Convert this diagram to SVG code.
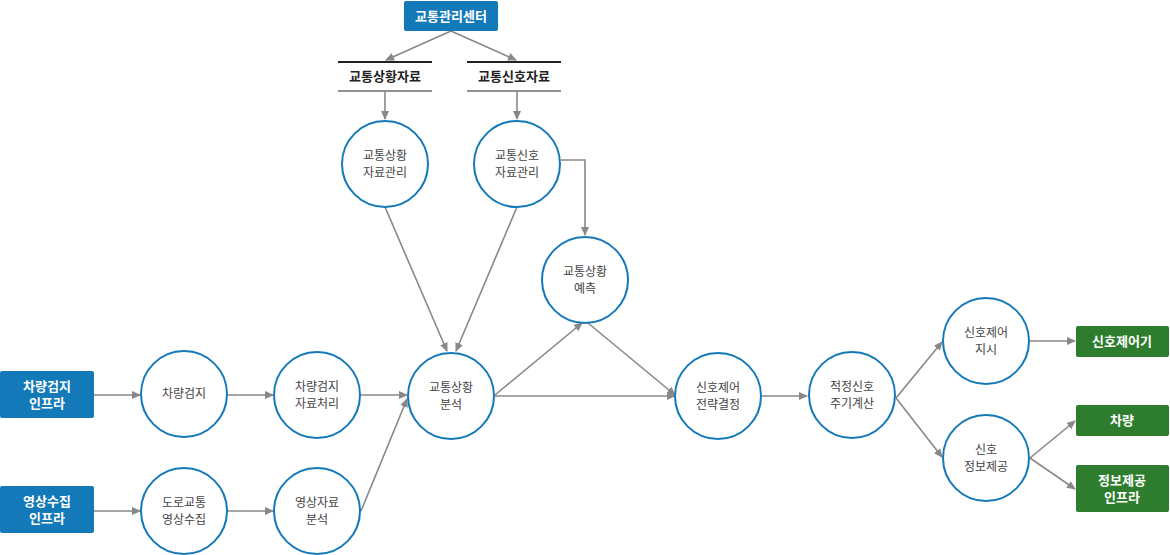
<svg xmlns="http://www.w3.org/2000/svg" width="1170" height="555" viewBox="0 0 1170 555">
<style>
.c{fill:#fff;stroke:#1479b8;stroke-width:2}
.t{font-family:"Noto Sans CJK KR","Noto Sans",sans-serif;font-size:12px;fill:#444;text-anchor:middle}
.b{fill:#1479b8}
.g{fill:#2e7d2e}
.bt{font-family:"Noto Sans CJK KR",sans-serif;font-size:13px;font-weight:bold;fill:#fff;text-anchor:middle}
.lt{font-family:"Noto Sans CJK KR",sans-serif;font-size:13px;font-weight:bold;fill:#222;text-anchor:middle}
.e{stroke:#888;stroke-width:1.6;fill:none;marker-end:url(#a)}
</style>
<defs><marker id="a" markerWidth="10" markerHeight="10" refX="8" refY="5" orient="auto" markerUnits="userSpaceOnUse"><path d="M0,1 L9,5 L0,9z" fill="#888"/></marker></defs>
<g id="connectors">
<path class="e" d="M451,31 L386,60"/><path class="e" d="M451,31 L516,60"/>
<path class="e" d="M385,92 L385,119"/><path class="e" d="M517,92 L517,119"/>
<path class="e" d="M561,160 L585,160 L585,235"/>
<path class="e" d="M385,207 L447,351"/><path class="e" d="M517,207 L456,351"/>
<path class="e" d="M94,395 L140,395"/><path class="e" d="M228,395 L273,395"/><path class="e" d="M361,395 L407,395"/>
<path class="e" d="M361,511 L407,399"/>
<path class="e" d="M94,511 L140,511"/><path class="e" d="M228,511 L273,511"/>
<path class="e" d="M495,395 L582,323"/><path class="e" d="M588,323 L675,395"/><path class="e" d="M495,396 L675,396"/>
<path class="e" d="M762,396 L807,396"/>
<path class="e" d="M896,398 L942,342"/><path class="e" d="M896,398 L942,457"/>
<path class="e" d="M1030,341 L1075,341"/><path class="e" d="M1030,458 L1075,421"/><path class="e" d="M1030,458 L1075,489"/>
</g>
<g id="center"><rect class="b" x="404" y="1" width="94" height="30" rx="2"/><text class="bt" x="451" y="21">교통관리센터</text></g>
<g id="data1"><line x1="338" y1="62" x2="432" y2="62" stroke="#222" stroke-width="2"/><line x1="338" y1="91" x2="432" y2="91" stroke="#222" stroke-width="1"/><text class="lt" x="385" y="81">교통상황자료</text></g>
<g id="data2"><line x1="467" y1="62" x2="561" y2="62" stroke="#222" stroke-width="2"/><line x1="467" y1="91" x2="561" y2="91" stroke="#222" stroke-width="1"/><text class="lt" x="514" y="81">교통신호자료</text></g>
<g id="n1"><circle class="c" cx="385" cy="164" r="43"/><text class="t" x="385" y="160">교통상황</text><text class="t" x="385" y="177">자료관리</text></g>
<g id="n2"><circle class="c" cx="517" cy="164" r="43"/><text class="t" x="517" y="160">교통신호</text><text class="t" x="517" y="177">자료관리</text></g>
<g id="n3"><circle class="c" cx="585" cy="280" r="43"/><text class="t" x="585" y="276">교통상황</text><text class="t" x="585" y="293">예측</text></g>
<g id="n4"><circle class="c" cx="184" cy="394" r="43"/><text class="t" x="184" y="398">차량검지</text></g>
<g id="n5"><circle class="c" cx="317" cy="395" r="43"/><text class="t" x="317" y="391">차량검지</text><text class="t" x="317" y="408">자료처리</text></g>
<g id="n6"><circle class="c" cx="451" cy="396" r="43"/><text class="t" x="451" y="392">교통상황</text><text class="t" x="451" y="409">분석</text></g>
<g id="n7"><circle class="c" cx="718" cy="396" r="43"/><text class="t" x="718" y="392">신호제어</text><text class="t" x="718" y="409">전략결정</text></g>
<g id="n8"><circle class="c" cx="852" cy="395" r="43"/><text class="t" x="852" y="391">적정신호</text><text class="t" x="852" y="408">주기계산</text></g>
<g id="n9"><circle class="c" cx="986" cy="341" r="43"/><text class="t" x="986" y="337">신호제어</text><text class="t" x="986" y="354">지시</text></g>
<g id="n10"><circle class="c" cx="986" cy="458" r="43"/><text class="t" x="986" y="454">신호</text><text class="t" x="986" y="471">정보제공</text></g>
<g id="n11"><circle class="c" cx="184" cy="511" r="43"/><text class="t" x="184" y="507">도로교통</text><text class="t" x="184" y="524">영상수집</text></g>
<g id="n12"><circle class="c" cx="317" cy="511" r="43"/><text class="t" x="317" y="507">영상자료</text><text class="t" x="317" y="524">분석</text></g>
<g id="in1"><rect class="b" x="0" y="371" width="94" height="47" rx="2"/><text class="bt" x="47" y="391">차량검지</text><text class="bt" x="47" y="408">인프라</text></g>
<g id="in2"><rect class="b" x="0" y="486" width="94" height="47" rx="2"/><text class="bt" x="47" y="506">영상수집</text><text class="bt" x="47" y="523">인프라</text></g>
<g id="o1"><rect class="g" x="1076" y="326" width="93" height="31" rx="2"/><text class="bt" x="1122" y="346">신호제어기</text></g>
<g id="o2"><rect class="g" x="1076" y="405" width="93" height="31" rx="2"/><text class="bt" x="1122" y="425">차량</text></g>
<g id="o3"><rect class="g" x="1076" y="465" width="93" height="47" rx="2"/><text class="bt" x="1122" y="485">정보제공</text><text class="bt" x="1122" y="502">인프라</text></g>
</svg>
